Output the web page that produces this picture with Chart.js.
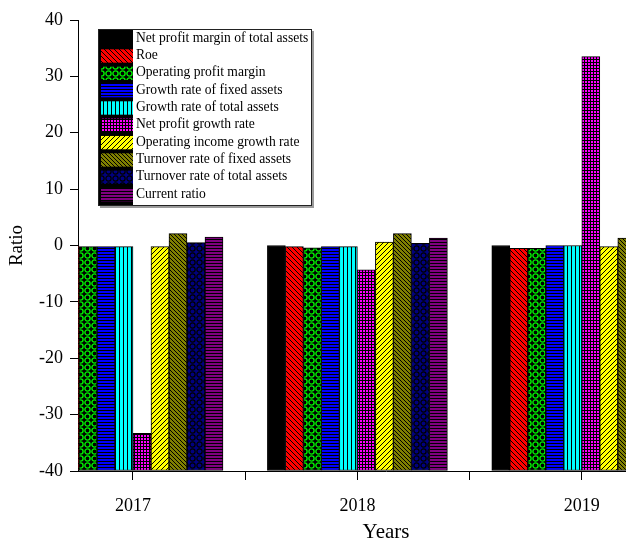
<!DOCTYPE html>
<html><head><meta charset="utf-8">
<script src="https://cdn.jsdelivr.net/npm/chart.js@4.4.0/dist/chart.umd.min.js"></script>
<style>
html,body{margin:0;padding:0;background:#fff;overflow:hidden;width:626px;height:543px;}
#wrap{position:relative;width:700px;height:543px;}
</style></head><body>
<div id="wrap"><canvas id="c" width="700" height="543"></canvas></div>
<script>
// ---- data ----
const years = [2017, 2018, 2019];
const seriesNames = [
  'Net profit margin of total assets',
  'Roe',
  'Operating profit margin',
  'Growth rate of fixed assets',
  'Growth rate of total assets',
  'Net profit growth rate',
  'Operating income growth rate',
  'Turnover rate of fixed assets',
  'Turnover rate of total assets',
  'Current ratio'
];
const netProfitMarginTotalAssets = [0, 0, 0];
const roe = [0, -0.2, -0.5];
const operatingProfitMargin = [-0.2, -0.4, -0.5];
const growthRateFixedAssets = [-0.2, -0.2, 0];
const growthRateTotalAssets = [-0.2, -0.2, 0];
const netProfitGrowthRate = [-33.3, -4.3, 33.5];
const operatingIncomeGrowthRate = [-0.2, 0.6, -0.2];
const turnoverRateFixedAssets = [2.1, 2.1, 1.3];
const turnoverRateTotalAssets = [0.5, 0.4, 0.4];
const currentRatio = [1.5, 1.3, 1.4];
const yTickValues = [-40, -30, -20, -10, 0, 10, 20, 30, 40];
const xTickValues = [2017, 2017.5, 2018, 2018.5, 2019];

const seriesValues = [
  netProfitMarginTotalAssets, roe, operatingProfitMargin, growthRateFixedAssets,
  growthRateTotalAssets, netProfitGrowthRate, operatingIncomeGrowthRate,
  turnoverRateFixedAssets, turnoverRateTotalAssets, currentRatio
];

// ---- patterns ----
const canvas = document.getElementById('c');
const mainCtx = canvas.getContext('2d');
function pixelPattern(size, fg, bg, test) {
  const c = document.createElement('canvas');
  c.width = size; c.height = size;
  const g = c.getContext('2d');
  g.fillStyle = bg; g.fillRect(0, 0, size, size);
  g.fillStyle = fg;
  for (let x = 0; x < size; x++) for (let y = 0; y < size; y++) {
    if (test(x, y)) g.fillRect(x, y, 1, 1);
  }
  return mainCtx.createPattern(c, 'repeat');
}
function ringPattern(size, fg, bg, r, lw) {
  const c = document.createElement('canvas');
  c.width = size; c.height = size;
  const g = c.getContext('2d');
  g.fillStyle = bg; g.fillRect(0, 0, size, size);
  g.strokeStyle = fg; g.lineWidth = lw;
  g.beginPath(); g.arc(size / 2, size / 2, r, 0, Math.PI * 2); g.stroke();
  return mainCtx.createPattern(c, 'repeat');
}
const fills = [
  '#000000',
  pixelPattern(5, '#000', '#ff0000', (x, y) => ((x - y + 10) % 5) === 0),
  ringPattern(7, '#00ee00', '#000', 2.6, 1.4),
  pixelPattern(3, '#0000ff', '#000', (x, y) => y < 2),
  pixelPattern(4, '#00ffff', '#000', (x, y) => x < 3),
  pixelPattern(3, '#ff00ff', '#000', (x, y) => x < 2 && y < 2),
  pixelPattern(5, '#000', '#ffff00', (x, y) => ((x + y) % 5) === 0),
  pixelPattern(4, '#000', '#808000', (x, y) => ((x - y + 8) % 4) === 0),
  ringPattern(7, '#000', '#000080', 2.6, 1.2),
  pixelPattern(3, '#800080', '#000', (x, y) => y < 2)
];

const datasets = seriesNames.map((name, i) => ({
  label: name,
  data: years.map((yr, j) => ({ x: yr, y: seriesValues[i][j] })),
  backgroundColor: fills[i],
  borderColor: '#000',
  borderWidth: 1,
  borderSkipped: false,
  base: -40,
  barThickness: 18
}));

const serif = "'Liberation Serif', 'Times New Roman', serif";

const boxLegend = {
  id: 'boxLegend',
  afterDatasetsDraw(chart) {
    const ctx = chart.ctx;
    const L = 98, T = 29, R = 312, B = 206;
    const rowH = 17.33;
    ctx.save();
    ctx.fillStyle = '#9a9a9a';
    ctx.fillRect(L + 2, T + 2, R - L, B - T);
    ctx.fillStyle = '#fff';
    ctx.fillRect(L, T, R - L, B - T);
    ctx.fillStyle = '#000';
    ctx.fillRect(L, T, 35, B - T);
    chart.data.datasets.forEach((ds, i) => {
      const y = T + 1 + i * rowH;
      ctx.fillStyle = ds.backgroundColor;
      ctx.fillRect(L + 3, y + 2, 32, rowH - 4);
    });
    ctx.beginPath();
    ctx.rect(L, T, R - L - 1, B - T);
    ctx.clip();
    ctx.fillStyle = '#000';
    ctx.font = '13.6px ' + serif;
    ctx.textBaseline = 'middle';
    ctx.textAlign = 'left';
    chart.data.datasets.forEach((ds, i) => {
      ctx.fillText(ds.label, 136, T + 9 + i * rowH);
    });
    ctx.restore();
    ctx.save();
    ctx.strokeStyle = '#222';
    ctx.lineWidth = 1;
    ctx.strokeRect(L + 0.5, T + 0.5, R - L - 1, B - T - 1);
    ctx.restore();
  }
};

new Chart(canvas, {
  type: 'bar',
  data: { datasets },
  plugins: [boxLegend],
  options: {
    responsive: false,
    animation: false,
    devicePixelRatio: 1,
    layout: { padding: { top: 20, right: 6, left: 0, bottom: 0 } },
    plugins: { legend: { display: false }, tooltip: { enabled: false } },
    scales: {
      x: {
        type: 'linear',
        min: 2016.755,
        max: 2019.5,
        offset: false,
        afterBuildTicks: s => { s.ticks = xTickValues.map(v => ({ value: v })); },
        afterFit: s => { s.height = 72; },
        ticks: {
          autoSkip: false, maxRotation: 0, color: '#000', padding: 15,
          font: { family: serif, size: 18 },
          callback: v => Number.isInteger(v) ? String(v) : ''
        },
        grid: { offset: false, drawOnChartArea: false, tickLength: 9, color: '#000' },
        border: { color: '#000', width: 1 },
        title: { display: true, text: 'Years', color: '#000', font: { family: serif, size: 21 }, padding: { top: 0, bottom: -2 } }
      },
      y: {
        min: -40, max: 40,
        afterBuildTicks: s => { s.ticks = yTickValues.map(v => ({ value: v })); },
        afterFit: s => { s.width = 78; },
        ticks: { color: '#000', padding: 7, font: { family: serif, size: 18 } },
        grid: { drawOnChartArea: false, tickLength: 8, color: '#000' },
        border: { color: '#000', width: 1 },
        title: { display: true, text: 'Ratio', color: '#000', font: { family: serif, size: 19 }, padding: { top: 6, bottom: 0 } }
      }
    }
  }
});
</script>
</body></html>
